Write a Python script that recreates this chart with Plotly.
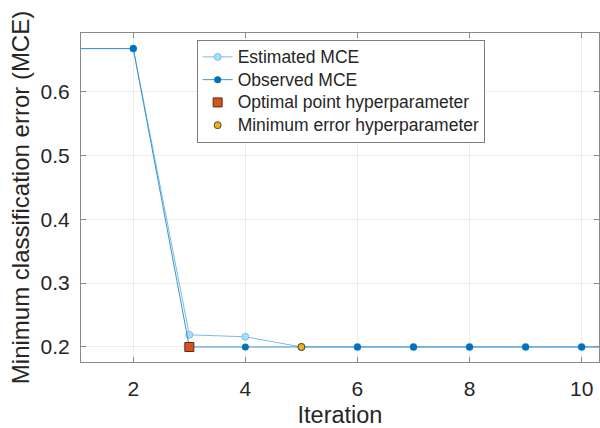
import plotly.graph_objects as go

iterations = [1, 2, 3, 4, 5, 6, 7, 8, 9, 10, 11]
estimated_mce = [0.667, 0.667, 0.219, 0.216, 0.2, 0.2, 0.2, 0.2, 0.2, 0.2, 0.2]
observed_mce = [0.667, 0.667, 0.2, 0.2, 0.2, 0.2, 0.2, 0.2, 0.2, 0.2, 0.2]
optimal_iter = [3]
optimal_mce = [0.2]
minerr_iter = [5]
minerr_mce = [0.2]

x_ticks = [2, 4, 6, 8, 10]
y_ticks = [0.2, 0.3, 0.4, 0.5, 0.6]

FONT = "Liberation Sans, Arial, Helvetica, sans-serif"
TXT = "#262626"
AX = "#8a8a8a"


def leg(name):
    return f'<span style="font-size:17.5px">{name}</span>'


fig = go.Figure()
fig.add_trace(go.Scatter(
    x=iterations, y=estimated_mce, mode="lines+markers", name=leg("Estimated MCE"),
    line=dict(color="#72bde9", width=1),
    marker=dict(size=7, color="#a9dcf7", line=dict(color="#78c2ec", width=1)),
))
fig.add_trace(go.Scatter(
    x=iterations, y=observed_mce, mode="lines+markers", name=leg("Observed MCE"),
    line=dict(color="#3f93cf", width=1),
    marker=dict(size=7, color="#0072BD", line=dict(width=0)),
))
fig.add_trace(go.Scatter(
    x=optimal_iter, y=optimal_mce, mode="markers", name=leg("Optimal point hyperparameter"),
    marker=dict(symbol="square", size=9, color="#D95319", line=dict(color="#5a2a14", width=1)),
))
fig.add_trace(go.Scatter(
    x=minerr_iter, y=minerr_mce, mode="markers", name=leg("Minimum error hyperparameter"),
    marker=dict(size=7, color="#EDB120", line=dict(color="#5c4a20", width=1)),
))

fig.update_layout(
    width=600, height=428,
    margin=dict(l=81, r=1, t=33, b=66, autoexpand=False),
    paper_bgcolor="white", plot_bgcolor="white",
    font=dict(family=FONT, color=TXT),
    showlegend=True,
    legend=dict(
        x=0.224, y=0.979, xanchor="left", yanchor="top",
        bgcolor="white", bordercolor="#262626", borderwidth=0.6,
        font=dict(size=15.2, family=FONT, color=TXT),
        tracegroupgap=0, itemwidth=30,
    ),
)
fig.update_xaxes(
    range=[1.067, 10.31], tickvals=x_ticks, ticktext=[str(v) for v in x_ticks],
    ticks="inside", ticklen=5, tickcolor=AX, showline=True, linecolor=AX, linewidth=1,
    mirror="ticks", showgrid=True, gridcolor="#ececec", gridwidth=1, zeroline=False,
    tickfont=dict(size=21, color=TXT), ticklabelstandoff=8,
    title=dict(text="Iteration", font=dict(size=23.5, color=TXT), standoff=9),
    automargin=False,
)
fig.update_yaxes(
    range=[0.1765, 0.6914], tickvals=y_ticks, ticktext=[f"{v:.1f}" for v in y_ticks],
    ticks="inside", ticklen=5, tickcolor=AX, showline=True, linecolor=AX, linewidth=1,
    mirror="ticks", showgrid=True, gridcolor="#ececec", gridwidth=1, zeroline=False,
    tickfont=dict(size=21, color=TXT), ticklabelstandoff=6,
    title=dict(text="Minimum classification error (MCE)", font=dict(size=24, color=TXT), standoff=4),
    automargin=False,
)

fig.write_html("out.html")
